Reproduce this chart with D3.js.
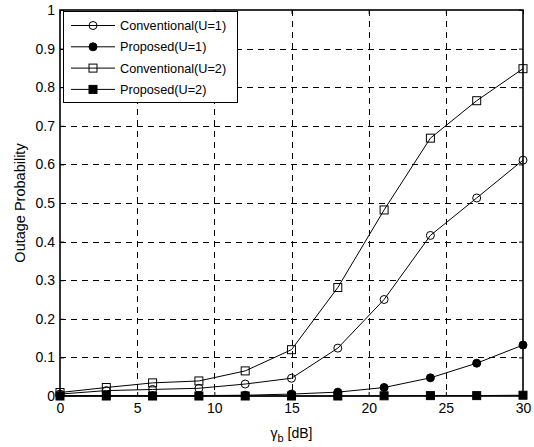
<!DOCTYPE html>
<html>
<head>
<meta charset="utf-8">
<script src="https://cdn.jsdelivr.net/npm/d3@7"></script>
<style>
  body { margin: 0; background: #fff; }
  svg text { font-family: "Liberation Sans", Arial, sans-serif; }
</style>
</head>
<body>
<div id="chart"></div>
<script>
// gamma_b in dB
const snr = [0, 3, 6, 9, 12, 15, 18, 21, 24, 27, 30];

const convU1 = [0.005, 0.014, 0.017, 0.02, 0.031, 0.046, 0.124, 0.25, 0.416, 0.513, 0.611];
const propU1 = [0.001, 0.001, 0.001, 0.001, 0.002, 0.005, 0.01, 0.022, 0.047, 0.085, 0.132];
const convU2 = [0.009, 0.022, 0.034, 0.039, 0.065, 0.12, 0.281, 0.482, 0.668, 0.765, 0.848];
const propU2 = [0, 0, 0, 0, 0, 0, 0, 0.0005, 0.001, 0.001, 0.002];

const seriesNames = ["Conventional(U=1)", "Proposed(U=1)", "Conventional(U=2)", "Proposed(U=2)"];

const xTicks = [0, 5, 10, 15, 20, 25, 30];
const yTicks = [0, 0.1, 0.2, 0.3, 0.4, 0.5, 0.6, 0.7, 0.8, 0.9, 1];

const width = 534;
const height = 447;
const margin = { top: 10, right: 11, bottom: 51, left: 60 };

const series = [
  { name: seriesNames[0], values: convU1, shape: "circle", filled: false },
  { name: seriesNames[1], values: propU1, shape: "circle", filled: true },
  { name: seriesNames[2], values: convU2, shape: "square", filled: false },
  { name: seriesNames[3], values: propU2, shape: "square", filled: true }
];

const xScale = d3.scaleLinear().domain([0, 30]).range([margin.left, width - margin.right]);
const yScale = d3.scaleLinear().domain([0, 1]).range([height - margin.bottom, margin.top]);

const svg = d3.select("#chart").append("svg")
  .attr("width", width)
  .attr("height", height);

// grid
const grid = svg.append("g")
  .attr("stroke", "#000")
  .attr("stroke-width", 1)
  .attr("stroke-dasharray", "6,5")
  .attr("shape-rendering", "crispEdges");

grid.selectAll(".gx").data(xTicks.slice(1, -1)).join("line")
  .attr("x1", d => Math.round(xScale(d)) + 0.5)
  .attr("x2", d => Math.round(xScale(d)) + 0.5)
  .attr("y1", yScale(1))
  .attr("y2", yScale(0));

grid.selectAll(".gy").data(yTicks.slice(1, -1)).join("line")
  .attr("x1", xScale(0))
  .attr("x2", xScale(30))
  .attr("y1", d => Math.round(yScale(d)) + 0.5)
  .attr("y2", d => Math.round(yScale(d)) + 0.5);

// axes
const axisFont = "14px";

svg.append("g")
  .attr("transform", `translate(0,${yScale(0)})`)
  .call(d3.axisBottom(xScale).tickValues(xTicks).tickSize(-4).tickPadding(7).tickFormat(d3.format("d")))
  .call(g => g.select(".domain").remove())
  .call(g => g.selectAll("text").attr("font-size", axisFont).attr("fill", "#000"));

svg.append("g")
  .attr("transform", `translate(0,${yScale(1)})`)
  .call(d3.axisTop(xScale).tickValues(xTicks).tickSize(-4).tickFormat(""))
  .call(g => g.select(".domain").remove());

svg.append("g")
  .attr("transform", `translate(${xScale(0)},0)`)
  .call(d3.axisLeft(yScale).tickValues(yTicks).tickSize(-4).tickPadding(5)
    .tickFormat(d => d === 0 ? "0" : d === 1 ? "1" : d3.format(".1f")(d)))
  .call(g => g.select(".domain").remove())
  .call(g => g.selectAll("text").attr("font-size", axisFont).attr("fill", "#000"));

svg.append("g")
  .attr("transform", `translate(${xScale(30)},0)`)
  .call(d3.axisRight(yScale).tickValues(yTicks).tickSize(-4).tickFormat(""))
  .call(g => g.select(".domain").remove());

// plot box
svg.append("rect")
  .attr("x", xScale(0))
  .attr("y", yScale(1))
  .attr("width", xScale(30) - xScale(0))
  .attr("height", yScale(0) - yScale(1))
  .attr("fill", "none")
  .attr("stroke", "#000")
  .attr("stroke-width", 1.6);

// lines + markers
const line = d3.line().x((_, i) => xScale(snr[i])).y(d => yScale(d));

function drawMarker(g, shape, filled, x, y) {
  const m = shape === "circle"
    ? g.append("circle").attr("cx", x).attr("cy", y).attr("r", 4)
    : g.append("rect").attr("x", x - 4).attr("y", y - 4).attr("width", 8).attr("height", 8);
  m.attr("fill", filled ? "#000" : "none").attr("stroke", "#000").attr("stroke-width", 1);
}

series.forEach(s => {
  const g = svg.append("g");
  g.append("path")
    .datum(s.values)
    .attr("fill", "none")
    .attr("stroke", "#000")
    .attr("stroke-width", 1)
    .attr("d", line);
  s.values.forEach((v, i) => drawMarker(g, s.shape, s.filled, xScale(snr[i]), yScale(v)));
});

// legend
const legend = svg.append("g");
legend.append("rect")
  .attr("x", 63.5)
  .attr("y", 11.5)
  .attr("width", 174)
  .attr("height", 91)
  .attr("fill", "#fff")
  .attr("stroke", "#000")
  .attr("stroke-width", 1);

series.forEach((s, i) => {
  const y = 25.5 + i * 21.3;
  legend.append("line")
    .attr("x1", 71).attr("x2", 115)
    .attr("y1", y).attr("y2", y)
    .attr("stroke", "#000").attr("stroke-width", 1);
  drawMarker(legend, s.shape, s.filled, 93, y);
  legend.append("text")
    .attr("x", 120)
    .attr("y", y)
    .attr("dy", "0.35em")
    .attr("font-size", "12.7px")
    .text(s.name);
});

// axis labels
const xLabel = svg.append("text")
  .attr("x", (xScale(0) + xScale(30)) / 2)
  .attr("y", 438)
  .attr("text-anchor", "middle")
  .attr("font-size", "14px");
xLabel.append("tspan").text("\u03b3");
xLabel.append("tspan").attr("font-size", "11px").attr("dy", 4).text("b");
xLabel.append("tspan").attr("dy", -4).text(" [dB]");

svg.append("text")
  .attr("transform", `translate(25,${(yScale(0) + yScale(1)) / 2}) rotate(-90)`)
  .attr("text-anchor", "middle")
  .attr("font-size", "14.5px")
  .text("Outage Probability");
</script>
</body>
</html>
